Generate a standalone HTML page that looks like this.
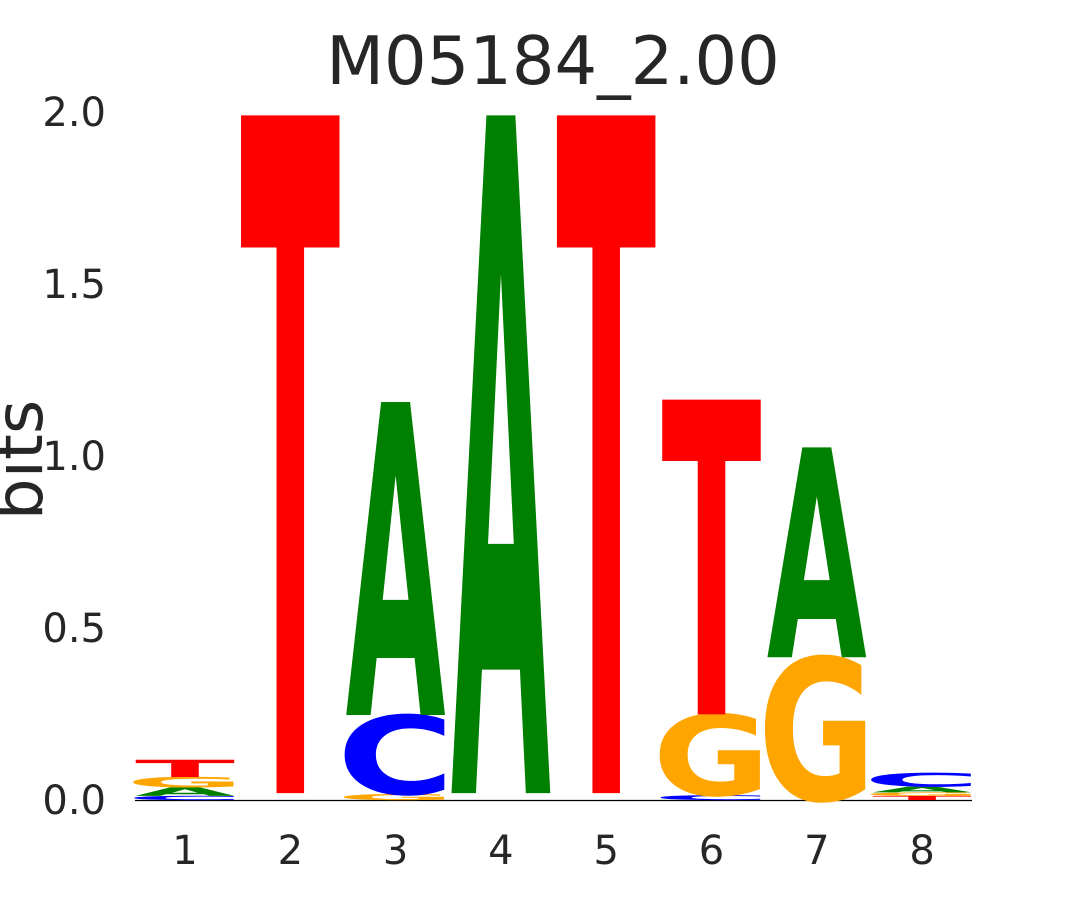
<!DOCTYPE html>
<html><head><meta charset="utf-8"><style>
html,body{margin:0;padding:0;background:#fff;overflow:hidden;width:1080px;height:900px;}
svg{display:block;}
svg text{font-family:"DejaVu Sans","Liberation Sans",sans-serif;}
</style></head><body>
<svg id="chart" width="1080" height="900" xmlns="http://www.w3.org/2000/svg" overflow="hidden">
<text x="553" y="84" font-size="67" text-anchor="middle" fill="#262626">M05184_2.00</text>
<text transform="translate(42,460) rotate(-90)" font-size="66" text-anchor="middle" fill="#262626">bits</text>
<line x1="135" y1="800.5" x2="972" y2="800.5" stroke="#000" stroke-width="1.2"/>
<g id="yticks"></g><g id="xticks"></g><g id="letters"></g>
</svg>
<script>
const positions=[1,2,3,4,5,6,7,8];
const yTicks=[0,0.5,1,1.5,2];
const yTickLabels=["0.0","0.5","1.0","1.5","2.0"];
// stacks bottom->top: [letter, height in bits]; "" = invisible small letters
const col1=[["C",0.012],["A",0.025],["G",0.03],["T",0.05]];
const col2=[["",0.02],["T",1.97]];
const col3=[["G",0.017],["C",0.23],["A",0.91]];
const col4=[["",0.02],["A",1.97]];
const col5=[["",0.02],["T",1.97]];
const col6=[["C",0.014],["G",0.235],["T",0.915]];
const col7=[["G",0.415],["A",0.61]];
const col8=[["T",0.012],["G",0.01],["A",0.017],["C",0.04]];
const stacks=[col1,col2,col3,col4,col5,col6,col7,col8];
const colors={A:"#008000",C:"#0000ff",G:"#ffa500",T:"#ff0000"};
const widen={A:1.0,T:1.0,C:1.18,G:1.18};
const NS="http://www.w3.org/2000/svg";
const y=v=>800-v*344;
const xc=p=>185+(p-1)*105.3;
const W=100;
const yg=document.getElementById('yticks');
yTicks.forEach((t,i)=>{
 const e=document.createElementNS(NS,'text');
 
 
 e.setAttribute('x',106);e.setAttribute('y',y(t)+14);
 e.setAttribute('font-size',40);e.setAttribute('text-anchor','end');e.setAttribute('fill','#262626');
 e.textContent=yTickLabels[i];yg.appendChild(e);
});
const xg=document.getElementById('xticks');
positions.forEach(p=>{
 const e=document.createElementNS(NS,'text');
 
 
 e.setAttribute('x',xc(p));e.setAttribute('y',864);
 e.setAttribute('font-size',40);e.setAttribute('text-anchor','middle');e.setAttribute('fill','#262626');
 e.textContent=String(p);xg.appendChild(e);
});
const lg=document.getElementById('letters');
const CAP=72.9;
stacks.forEach((st,i)=>{
 let base=0;
 st.forEach(([L,h])=>{
  if(!L){base+=h;return;}
  const y0=y(base),y1=y(base+h);
  const sy=(y0-y1)/CAP;
  const tw=W*widen[L];
  const e=document.createElementNS(NS,'text');
  
  
  e.setAttribute('x',0);e.setAttribute('y',0);
  e.setAttribute('font-size',100);e.setAttribute('font-weight','bold');
  e.setAttribute('textLength',tw);e.setAttribute('lengthAdjust','spacingAndGlyphs');
  e.setAttribute('fill',colors[L]);
  e.setAttribute('transform','translate('+(xc(positions[i])-tw/2)+','+y0+') scale(1,'+sy+')');
  e.textContent=L;lg.appendChild(e);
  base+=h;
 });
});
</script>
</body></html>
